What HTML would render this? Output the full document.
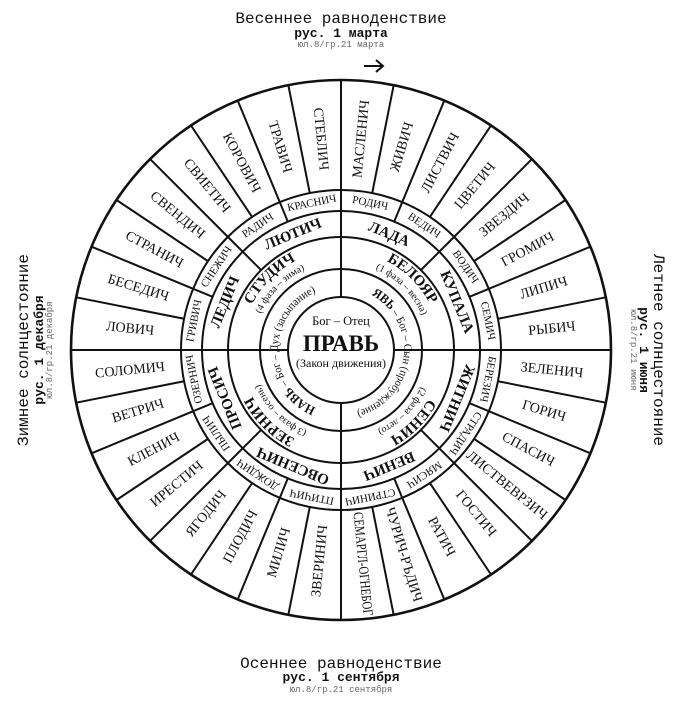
<!DOCTYPE html>
<html><head><meta charset="utf-8"><style>
html,body{margin:0;padding:0;background:#fff;}
svg{display:block;}
.o{font-family:"Liberation Serif",serif;font-size:14px;text-anchor:middle;dominant-baseline:central;fill:#111;}
.m{font-family:"Liberation Serif",serif;font-size:11px;text-anchor:middle;dominant-baseline:central;fill:#111;}
.e{font-family:"Liberation Serif",serif;font-size:15px;font-weight:bold;text-anchor:middle;dominant-baseline:central;fill:#111;}
.q{font-family:"Liberation Serif",serif;font-size:15px;font-weight:bold;text-anchor:middle;fill:#111;}
.qs{font-family:"Liberation Serif",serif;font-size:10px;text-anchor:middle;fill:#111;}
.y{font-family:"Liberation Serif",serif;font-size:11.5px;text-anchor:middle;fill:#111;}
.t1{font-family:"Liberation Mono",monospace;font-size:16px;text-anchor:middle;fill:#111;}
.t2{font-family:"Liberation Mono",monospace;font-size:13px;font-weight:bold;text-anchor:middle;fill:#111;}
.t3{font-family:"Liberation Mono",monospace;font-size:9px;text-anchor:middle;fill:#666;}
</style></head><body>
<svg width="681" height="709" viewBox="0 0 681 709" xmlns="http://www.w3.org/2000/svg">
<defs>
<line id="lo" x1="341" y1="190" x2="341" y2="80" stroke="#111" stroke-width="2"/>
<line id="lm" x1="341" y1="211" x2="341" y2="190" stroke="#111" stroke-width="2"/>
<line id="le" x1="341" y1="237" x2="341" y2="211" stroke="#111" stroke-width="2"/>
<path id="cq1" d="M341 450 A100 100 0 0 1 341 250 A100 100 0 0 1 341 450"/>
<path id="cq2" d="M341 438 A88 88 0 0 1 341 262 A88 88 0 0 1 341 438"/>
<path id="cy" d="M341 413 A63 63 0 0 1 341 287 A63 63 0 0 1 341 413"/>
</defs>

<!-- titles -->
<text class="t1" x="341" y="23">Весеннее равноденствие</text>
<text class="t2" x="341" y="37">рус. 1 марта</text>
<text class="t3" x="341" y="47">юл.8/гр.21 марта</text>
<path d="M364 66 L383 66 M376 60 L383 66 L376 72" stroke="#111" stroke-width="2" fill="none"/>

<text class="t1" x="341" y="668">Осеннее равноденствие</text>
<text class="t2" x="341" y="681">рус. 1 сентября</text>
<text class="t3" x="341" y="692">юл.8/гр.21 сентября</text>

<text class="t1" transform="translate(28 350) rotate(-90)">Зимнее солнцестояние</text>
<text class="t2" transform="translate(43 350) rotate(-90)">рус. 1 декабря</text>
<text class="t3" transform="translate(52 350) rotate(-90)">юл.8/гр.21 декабря</text>

<text class="t1" transform="translate(654 350) rotate(90)">Летнее солнцестояние</text>
<text class="t2" transform="translate(640 350) rotate(90)">рус. 1 июня</text>
<text class="t3" transform="translate(631 350) rotate(90)">юл.8/гр.21 июня</text>

<!-- circles -->
<g fill="none" stroke="#111">
<circle cx="341" cy="350" r="270" stroke-width="2.6"/>
<circle cx="341" cy="350" r="160" stroke-width="2"/>
<circle cx="341" cy="350" r="139" stroke-width="2"/>
<circle cx="341" cy="350" r="113" stroke-width="2"/>
<circle cx="341" cy="350" r="81" stroke-width="2"/>
<circle cx="341" cy="350" r="53" stroke-width="2"/>
</g>
<!-- axes -->
<g stroke="#111" stroke-width="2">
<line x1="341" y1="80" x2="341" y2="297"/>
<line x1="341" y1="403" x2="341" y2="620"/>
<line x1="71" y1="350" x2="288" y2="350"/>
<line x1="394" y1="350" x2="611" y2="350"/>
</g>
<!-- outer lines -->
<g>
<use href="#lo" transform="rotate(11.25 341 350)"/><use href="#lo" transform="rotate(22.5 341 350)"/><use href="#lo" transform="rotate(33.75 341 350)"/><use href="#lo" transform="rotate(45 341 350)"/>
<use href="#lo" transform="rotate(56.25 341 350)"/><use href="#lo" transform="rotate(67.5 341 350)"/><use href="#lo" transform="rotate(78.75 341 350)"/>
<use href="#lo" transform="rotate(101.25 341 350)"/><use href="#lo" transform="rotate(112.5 341 350)"/><use href="#lo" transform="rotate(123.75 341 350)"/><use href="#lo" transform="rotate(135 341 350)"/>
<use href="#lo" transform="rotate(146.25 341 350)"/><use href="#lo" transform="rotate(157.5 341 350)"/><use href="#lo" transform="rotate(168.75 341 350)"/>
<use href="#lo" transform="rotate(191.25 341 350)"/><use href="#lo" transform="rotate(202.5 341 350)"/><use href="#lo" transform="rotate(213.75 341 350)"/><use href="#lo" transform="rotate(225 341 350)"/>
<use href="#lo" transform="rotate(236.25 341 350)"/><use href="#lo" transform="rotate(247.5 341 350)"/><use href="#lo" transform="rotate(258.75 341 350)"/>
<use href="#lo" transform="rotate(281.25 341 350)"/><use href="#lo" transform="rotate(292.5 341 350)"/><use href="#lo" transform="rotate(303.75 341 350)"/><use href="#lo" transform="rotate(315 341 350)"/>
<use href="#lo" transform="rotate(326.25 341 350)"/><use href="#lo" transform="rotate(337.5 341 350)"/><use href="#lo" transform="rotate(348.75 341 350)"/>
</g>
<!-- middle lines -->
<g>
<use href="#lm" transform="rotate(22.5 341 350)"/><use href="#lm" transform="rotate(45 341 350)"/><use href="#lm" transform="rotate(67.5 341 350)"/>
<use href="#lm" transform="rotate(112.5 341 350)"/><use href="#lm" transform="rotate(135 341 350)"/><use href="#lm" transform="rotate(157.5 341 350)"/>
<use href="#lm" transform="rotate(202.5 341 350)"/><use href="#lm" transform="rotate(225 341 350)"/><use href="#lm" transform="rotate(247.5 341 350)"/>
<use href="#lm" transform="rotate(292.5 341 350)"/><use href="#lm" transform="rotate(315 341 350)"/><use href="#lm" transform="rotate(337.5 341 350)"/>
</g>
<!-- eight lines -->
<g>
<use href="#le" transform="rotate(45 341 350)"/><use href="#le" transform="rotate(135 341 350)"/><use href="#le" transform="rotate(225 341 350)"/><use href="#le" transform="rotate(315 341 350)"/>
</g>

<!-- outer labels -->
<g class="o">
<text class="o" transform="rotate(5.625 341 350) translate(341 138) rotate(-90)">МАСЛЕНИЧ</text>
<text class="o" transform="rotate(16.875 341 350) translate(341 138) rotate(-90)">ЖИВИЧ</text>
<text class="o" transform="rotate(28.125 341 350) translate(341 138) rotate(-90)">ЛИСТВИЧ</text>
<text class="o" transform="rotate(39.375 341 350) translate(341 138) rotate(-90)">ЦВЕТИЧ</text>
<text class="o" transform="rotate(50.625 341 350) translate(341 138) rotate(-90)">ЗВЕЗДИЧ</text>
<text class="o" transform="rotate(61.875 341 350) translate(341 138) rotate(-90)">ГРОМИЧ</text>
<text class="o" transform="rotate(73.125 341 350) translate(341 138) rotate(-90)">ЛИПИЧ</text>
<text class="o" transform="rotate(84.375 341 350) translate(341 138) rotate(-90)">РЫБИЧ</text>
<text class="o" transform="rotate(95.625 341 350) translate(341 138) rotate(-90)">ЗЕЛЕНИЧ</text>
<text class="o" transform="rotate(106.875 341 350) translate(341 138) rotate(-90)">ГОРИЧ</text>
<text class="o" transform="rotate(118.125 341 350) translate(341 138) rotate(-90)">СПАСИЧ</text>
<text class="o" transform="rotate(129.375 341 350) translate(341 136) rotate(-90)" textLength="100" lengthAdjust="spacingAndGlyphs">ЛИСТВЕВРЗИЧ</text>
<text class="o" transform="rotate(140.625 341 350) translate(341 138) rotate(-90)">ГОСТИЧ</text>
<text class="o" transform="rotate(151.875 341 350) translate(341 138) rotate(-90)">РАТИЧ</text>
<text class="o" transform="rotate(163.125 341 350) translate(341 136) rotate(-90)" textLength="98" lengthAdjust="spacingAndGlyphs">ЧУРИЧ-РЪДИЧ</text>
<text class="o" transform="rotate(174.375 341 350) translate(341 135) rotate(-90)" textLength="104" lengthAdjust="spacingAndGlyphs">СЕМАРГЛ-ОГНЕБОГ</text>
<text class="o" transform="rotate(185.625 341 350) translate(341 138) rotate(90)">ЗВЕРИНИЧ</text>
<text class="o" transform="rotate(196.875 341 350) translate(341 138) rotate(90)">МИЛИЧ</text>
<text class="o" transform="rotate(208.125 341 350) translate(341 138) rotate(90)">ПЛОДИЧ</text>
<text class="o" transform="rotate(219.375 341 350) translate(341 138) rotate(90)">ЯГОДИЧ</text>
<text class="o" transform="rotate(230.625 341 350) translate(341 138) rotate(90)">ИРЕСТИЧ</text>
<text class="o" transform="rotate(241.875 341 350) translate(341 138) rotate(90)">КЛЕНИЧ</text>
<text class="o" transform="rotate(253.125 341 350) translate(341 138) rotate(90)">ВЕТРИЧ</text>
<text class="o" transform="rotate(264.375 341 350) translate(341 138) rotate(90)">СОЛОМИЧ</text>
<text class="o" transform="rotate(275.625 341 350) translate(341 138) rotate(90)">ЛОВИЧ</text>
<text class="o" transform="rotate(286.875 341 350) translate(341 138) rotate(90)">БЕСЕДИЧ</text>
<text class="o" transform="rotate(298.125 341 350) translate(341 138) rotate(90)">СТРАНИЧ</text>
<text class="o" transform="rotate(309.375 341 350) translate(341 138) rotate(90)">СВЕНДИЧ</text>
<text class="o" transform="rotate(320.625 341 350) translate(341 138) rotate(90)">СВИЕТИЧ</text>
<text class="o" transform="rotate(331.875 341 350) translate(341 138) rotate(90)">КОРОВИЧ</text>
<text class="o" transform="rotate(343.125 341 350) translate(341 138) rotate(90)">ТРАВИЧ</text>
<text class="o" transform="rotate(354.375 341 350) translate(341 138) rotate(90)">СТЕБЛИЧ</text>
</g>

<!-- middle ring labels -->
<g>
<text class="m" transform="rotate(11.25 341 350) translate(341 200.5)">РОДИЧ</text>
<text class="m" transform="rotate(33.75 341 350) translate(341 200.5)">ВЕДИЧ</text>
<text class="m" transform="rotate(56.25 341 350) translate(341 200.5)">ВОДИЧ</text>
<text class="m" transform="rotate(78.75 341 350) translate(341 200.5)">СЕМИЧ</text>
<text class="m" transform="rotate(101.25 341 350) translate(341 200.5)">БЕРЕЗИЧ</text>
<text class="m" transform="rotate(123.75 341 350) translate(341 200.5)">СТРАДИЧ</text>
<text class="m" transform="rotate(146.25 341 350) translate(341 200.5)">МЯСИЧ</text>
<text class="m" transform="rotate(168.75 341 350) translate(341 200.5)">СТРИНИЧ</text>
<text class="m" transform="rotate(191.25 341 350) translate(341 200.5)">ПТИЧИЧ</text>
<text class="m" transform="rotate(213.75 341 350) translate(341 200.5)">ДОЖДИЧ</text>
<text class="m" transform="rotate(236.25 341 350) translate(341 200.5)">ПЫЛИЧ</text>
<text class="m" transform="rotate(258.75 341 350) translate(341 200.5)">ОЗЕРНИЧ</text>
<text class="m" transform="rotate(281.25 341 350) translate(341 200.5)">ГРИВИЧ</text>
<text class="m" transform="rotate(303.75 341 350) translate(341 200.5)">СНЕЖИЧ</text>
<text class="m" transform="rotate(326.25 341 350) translate(341 200.5)">РАДИЧ</text>
<text class="m" transform="rotate(348.75 341 350) translate(341 200.5)">КРАСНИЧ</text>
</g>

<!-- eight ring labels -->
<g>
<text class="e" transform="rotate(22.5 341 350) translate(341 225)">ЛАДА</text>
<text class="e" transform="rotate(67.5 341 350) translate(341 225)">КУПАЛА</text>
<text class="e" transform="rotate(112.5 341 350) translate(341 225)">ЖИТНИЧ</text>
<text class="e" transform="rotate(157.5 341 350) translate(341 225)">ВЕНИЧ</text>
<text class="e" transform="rotate(202.5 341 350) translate(341 225)">ОВСЕНИЧ</text>
<text class="e" transform="rotate(247.5 341 350) translate(341 225)">ПРОСИЧ</text>
<text class="e" transform="rotate(292.5 341 350) translate(341 225)">ЛЕДИЧ</text>
<text class="e" transform="rotate(337.5 341 350) translate(341 225)">ЛЮТИЧ</text>
</g>

<!-- quadrant ring -->
<text class="q"><textPath href="#cq1" startOffset="62.5%">БЕЛОЯР</textPath></text>
<text class="q"><textPath href="#cq1" startOffset="87.5%">СЕНИЧ</textPath></text>
<text class="q"><textPath href="#cq1" startOffset="12.5%">ЗЕРНИЧ</textPath></text>
<text class="q"><textPath href="#cq1" startOffset="37.5%">СТУДИЧ</textPath></text>
<text class="qs"><textPath href="#cq2" startOffset="62.5%">(1 фаза – весна)</textPath></text>
<text class="qs"><textPath href="#cq2" startOffset="87.5%">(2 фаза – лето)</textPath></text>
<text class="qs"><textPath href="#cq2" startOffset="12.5%">(3 фаза – осень)</textPath></text>
<text class="qs"><textPath href="#cq2" startOffset="37.5%">(4 фаза – зима)</textPath></text>

<!-- Явь / Навь ring -->
<text class="y"><textPath href="#cy" startOffset="77%" textLength="150" lengthAdjust="spacingAndGlyphs"><tspan font-weight="bold" font-size="13">ЯВЬ</tspan> – Бог – Сын (пробуждение)</textPath></text>
<text class="y"><textPath href="#cy" startOffset="25%" textLength="146" lengthAdjust="spacingAndGlyphs"><tspan font-weight="bold" font-size="13">НАВЬ</tspan> – Бог – Дух (засыпание)</textPath></text>

<!-- center -->
<text x="341" y="325" font-family="Liberation Serif, serif" font-size="12.5" text-anchor="middle" fill="#111">Бог – Отец</text>
<text x="341" y="351" font-family="Liberation Serif, serif" font-size="23" font-weight="bold" text-anchor="middle" fill="#111">ПРАВЬ</text>
<text x="341" y="367" font-family="Liberation Serif, serif" font-size="12" text-anchor="middle" fill="#111">(Закон движения)</text>
</svg>
</body></html>
